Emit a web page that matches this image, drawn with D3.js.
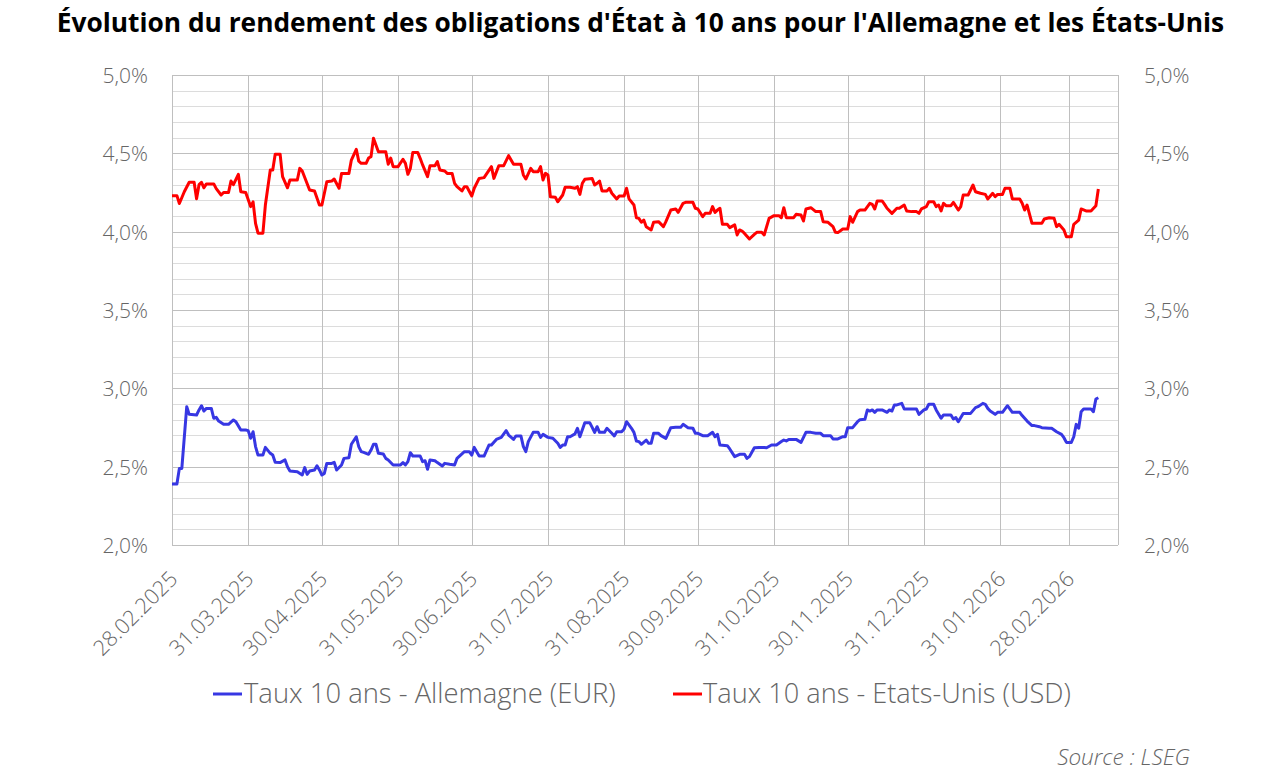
<!DOCTYPE html>
<html>
<head>
<meta charset="utf-8">
<script src="https://cdn.jsdelivr.net/npm/d3@7"></script>
<style>
  html, body { margin: 0; padding: 0; background: #fff; }
  svg { display: block; }
</style>
</head>
<body>
<svg id="chart"></svg>
<script>
const width = 1281;
const height = 774;

const title = "Évolution du rendement des obligations d'État à 10 ans pour l'Allemagne et les États-Unis";
const seriesNames = ["Taux 10 ans - Allemagne (EUR)", "Taux 10 ans - Etats-Unis (USD)"];
const sourceText = "Source : LSEG";

const xTickLabels = ["28.02.2025", "31.03.2025", "30.04.2025", "31.05.2025", "30.06.2025", "31.07.2025",
    "31.08.2025", "30.09.2025", "31.10.2025", "30.11.2025", "31.12.2025", "31.01.2026", "28.02.2026"];
const xDomain = ["28.02.2025", "20.03.2026"];
const yDomain = [2.0, 5.0];

// Bund 10 ans (EUR)
const deYield = [
    ["28.02.2025", 2.389], ["02.03.2025", 2.389], ["03.03.2025", 2.489], ["04.03.2025", 2.489], ["06.03.2025", 2.883],
    ["07.03.2025", 2.834], ["10.03.2025", 2.83], ["11.03.2025", 2.862], ["12.03.2025", 2.889], ["13.03.2025", 2.855],
    ["14.03.2025", 2.872], ["16.03.2025", 2.872], ["17.03.2025", 2.809], ["18.03.2025", 2.815], ["19.03.2025", 2.791],
    ["21.03.2025", 2.77], ["23.03.2025", 2.77], ["25.03.2025", 2.798], ["26.03.2025", 2.787], ["28.03.2025", 2.734],
    ["30.03.2025", 2.734], ["31.03.2025", 2.73], ["01.04.2025", 2.681], ["02.04.2025", 2.723], ["03.04.2025", 2.628],
    ["04.04.2025", 2.574], ["06.04.2025", 2.574], ["07.04.2025", 2.623], ["09.04.2025", 2.585], ["10.04.2025", 2.574],
    ["11.04.2025", 2.528], ["13.04.2025", 2.526], ["15.04.2025", 2.543], ["16.04.2025", 2.50], ["17.04.2025", 2.472],
    ["20.04.2025", 2.468], ["22.04.2025", 2.447], ["23.04.2025", 2.494], ["24.04.2025", 2.451], ["25.04.2025", 2.472],
    ["27.04.2025", 2.479], ["28.04.2025", 2.506], ["29.04.2025", 2.479], ["30.04.2025", 2.447], ["01.05.2025", 2.457],
    ["02.05.2025", 2.521], ["04.05.2025", 2.521], ["05.05.2025", 2.528], ["06.05.2025", 2.479], ["08.05.2025", 2.511],
    ["09.05.2025", 2.553], ["11.05.2025", 2.557], ["12.05.2025", 2.643], ["14.05.2025", 2.691], ["15.05.2025", 2.628],
    ["16.05.2025", 2.596], ["17.05.2025", 2.591], ["19.05.2025", 2.579], ["20.05.2025", 2.606], ["21.05.2025", 2.643],
    ["22.05.2025", 2.643], ["23.05.2025", 2.585], ["25.05.2025", 2.581], ["26.05.2025", 2.553], ["27.05.2025", 2.543],
    ["29.05.2025", 2.511], ["01.06.2025", 2.511], ["02.06.2025", 2.526], ["03.06.2025", 2.511], ["04.06.2025", 2.532],
    ["05.06.2025", 2.589], ["06.06.2025", 2.568], ["09.06.2025", 2.568], ["10.06.2025", 2.532], ["11.06.2025", 2.538],
    ["12.06.2025", 2.483], ["13.06.2025", 2.543], ["15.06.2025", 2.538], ["16.06.2025", 2.526], ["18.06.2025", 2.504],
    ["19.06.2025", 2.521], ["21.06.2025", 2.515], ["23.06.2025", 2.511], ["24.06.2025", 2.553], ["27.06.2025", 2.596],
    ["29.06.2025", 2.596], ["30.06.2025", 2.574], ["01.07.2025", 2.623], ["03.07.2025", 2.568], ["05.07.2025", 2.568],
    ["07.07.2025", 2.638], ["08.07.2025", 2.638], ["10.07.2025", 2.674], ["12.07.2025", 2.687], ["14.07.2025", 2.73],
    ["15.07.2025", 2.702], ["17.07.2025", 2.674], ["18.07.2025", 2.696], ["20.07.2025", 2.696], ["21.07.2025", 2.628],
    ["22.07.2025", 2.596], ["23.07.2025", 2.66], ["25.07.2025", 2.719], ["27.07.2025", 2.719], ["28.07.2025", 2.687],
    ["29.07.2025", 2.706], ["31.07.2025", 2.687], ["02.08.2025", 2.681], ["04.08.2025", 2.649], ["05.08.2025", 2.623],
    ["06.08.2025", 2.638], ["07.08.2025", 2.638], ["08.08.2025", 2.691], ["09.08.2025", 2.691], ["11.08.2025", 2.709],
    ["12.08.2025", 2.745], ["13.08.2025", 2.691], ["15.08.2025", 2.781], ["17.08.2025", 2.781], ["18.08.2025", 2.751],
    ["19.08.2025", 2.719], ["20.08.2025", 2.755], ["21.08.2025", 2.719], ["23.08.2025", 2.719], ["24.08.2025", 2.745],
    ["26.08.2025", 2.713], ["27.08.2025", 2.696], ["28.08.2025", 2.723], ["30.08.2025", 2.723], ["31.08.2025", 2.74],
    ["01.09.2025", 2.787], ["03.09.2025", 2.745], ["04.09.2025", 2.719], ["05.09.2025", 2.664], ["06.09.2025", 2.66],
    ["07.09.2025", 2.643], ["09.09.2025", 2.67], ["10.09.2025", 2.649], ["11.09.2025", 2.649], ["12.09.2025", 2.713],
    ["14.09.2025", 2.713], ["15.09.2025", 2.698], ["17.09.2025", 2.681], ["19.09.2025", 2.749], ["21.09.2025", 2.751],
    ["23.09.2025", 2.751], ["24.09.2025", 2.77], ["26.09.2025", 2.749], ["28.09.2025", 2.745], ["29.09.2025", 2.713],
    ["30.09.2025", 2.713], ["02.10.2025", 2.698], ["04.10.2025", 2.698], ["06.10.2025", 2.719], ["07.10.2025", 2.691],
    ["08.10.2025", 2.706], ["09.10.2025", 2.638], ["12.10.2025", 2.634], ["13.10.2025", 2.613], ["15.10.2025", 2.564],
    ["17.10.2025", 2.579], ["19.10.2025", 2.579], ["20.10.2025", 2.553], ["21.10.2025", 2.564], ["23.10.2025", 2.621],
    ["25.10.2025", 2.623], ["27.10.2025", 2.623], ["28.10.2025", 2.621], ["30.10.2025", 2.638], ["01.11.2025", 2.638],
    ["03.11.2025", 2.66], ["04.11.2025", 2.67], ["05.11.2025", 2.664], ["06.11.2025", 2.674], ["09.11.2025", 2.674],
    ["11.11.2025", 2.655], ["13.11.2025", 2.719], ["15.11.2025", 2.719], ["17.11.2025", 2.713], ["19.11.2025", 2.713],
    ["20.11.2025", 2.698], ["23.11.2025", 2.698], ["24.11.2025", 2.677], ["26.11.2025", 2.677], ["28.11.2025", 2.691],
    ["29.11.2025", 2.691], ["30.11.2025", 2.749], ["02.12.2025", 2.749], ["04.12.2025", 2.787], ["05.12.2025", 2.80],
    ["07.12.2025", 2.802], ["08.12.2025", 2.862], ["09.12.2025", 2.855], ["10.12.2025", 2.862], ["11.12.2025", 2.847],
    ["12.12.2025", 2.862], ["14.12.2025", 2.862], ["16.12.2025", 2.847], ["17.12.2025", 2.862], ["18.12.2025", 2.855],
    ["19.12.2025", 2.894], ["20.12.2025", 2.894], ["22.12.2025", 2.904], ["23.12.2025", 2.868], ["28.12.2025", 2.868],
    ["29.12.2025", 2.834], ["31.12.2025", 2.862], ["01.01.2026", 2.868], ["02.01.2026", 2.898], ["04.01.2026", 2.898],
    ["05.01.2026", 2.862], ["07.01.2026", 2.809], ["08.01.2026", 2.83], ["11.01.2026", 2.83], ["12.01.2026", 2.804],
    ["13.01.2026", 2.813], ["14.01.2026", 2.787], ["16.01.2026", 2.84], ["19.01.2026", 2.84], ["21.01.2026", 2.877],
    ["22.01.2026", 2.883], ["24.01.2026", 2.904], ["25.01.2026", 2.898], ["26.01.2026", 2.872], ["27.01.2026", 2.855],
    ["29.01.2026", 2.834], ["30.01.2026", 2.847], ["01.02.2026", 2.847], ["03.02.2026", 2.889], ["05.02.2026", 2.847],
    ["08.02.2026", 2.847], ["09.02.2026", 2.826], ["11.02.2026", 2.791], ["13.02.2026", 2.762], ["14.02.2026", 2.762],
    ["16.02.2026", 2.755], ["17.02.2026", 2.749], ["20.02.2026", 2.745], ["21.02.2026", 2.745], ["23.02.2026", 2.723],
    ["25.02.2026", 2.706], ["26.02.2026", 2.685], ["27.02.2026", 2.655], ["01.03.2026", 2.655], ["02.03.2026", 2.691],
    ["03.03.2026", 2.77], ["04.03.2026", 2.745], ["05.03.2026", 2.851], ["06.03.2026", 2.868], ["09.03.2026", 2.868],
    ["10.03.2026", 2.851], ["11.03.2026", 2.932], ["12.03.2026", 2.94]
];

// Treasury 10 ans (USD)
const usYield = [
    ["28.02.2025", 4.23], ["02.03.2025", 4.23], ["03.03.2025", 4.18], ["05.03.2025", 4.255], ["07.03.2025", 4.315],
    ["09.03.2025", 4.315], ["10.03.2025", 4.21], ["11.03.2025", 4.30], ["12.03.2025", 4.315], ["13.03.2025", 4.28],
    ["14.03.2025", 4.305], ["17.03.2025", 4.305], ["18.03.2025", 4.275], ["20.03.2025", 4.234], ["21.03.2025", 4.25],
    ["23.03.2025", 4.25], ["24.03.2025", 4.323], ["25.03.2025", 4.30], ["27.03.2025", 4.366], ["28.03.2025", 4.255],
    ["30.03.2025", 4.25], ["01.04.2025", 4.16], ["02.04.2025", 4.19], ["03.04.2025", 4.053], ["04.04.2025", 3.99],
    ["06.04.2025", 3.99], ["07.04.2025", 4.17], ["09.04.2025", 4.394], ["10.04.2025", 4.394], ["11.04.2025", 4.494],
    ["13.04.2025", 4.494], ["14.04.2025", 4.351], ["16.04.2025", 4.28], ["17.04.2025", 4.33], ["20.04.2025", 4.33],
    ["21.04.2025", 4.404], ["22.04.2025", 4.387], ["25.04.2025", 4.266], ["27.04.2025", 4.26], ["29.04.2025", 4.17],
    ["30.04.2025", 4.17], ["02.05.2025", 4.319], ["04.05.2025", 4.323], ["05.05.2025", 4.336], ["07.05.2025", 4.277],
    ["08.05.2025", 4.372], ["11.05.2025", 4.372], ["12.05.2025", 4.457], ["14.05.2025", 4.526], ["15.05.2025", 4.45],
    ["16.05.2025", 4.436], ["18.05.2025", 4.436], ["19.05.2025", 4.47], ["20.05.2025", 4.479], ["21.05.2025", 4.596],
    ["23.05.2025", 4.51], ["26.05.2025", 4.51], ["27.05.2025", 4.43], ["28.05.2025", 4.47], ["29.05.2025", 4.415],
    ["31.05.2025", 4.415], ["02.06.2025", 4.462], ["03.06.2025", 4.436], ["04.06.2025", 4.366], ["05.06.2025", 4.404],
    ["06.06.2025", 4.506], ["08.06.2025", 4.506], ["09.06.2025", 4.468], ["10.06.2025", 4.426], ["12.06.2025", 4.351],
    ["13.06.2025", 4.421], ["15.06.2025", 4.421], ["16.06.2025", 4.447], ["17.06.2025", 4.394], ["19.06.2025", 4.387],
    ["20.06.2025", 4.372], ["22.06.2025", 4.372], ["23.06.2025", 4.309], ["24.06.2025", 4.287], ["26.06.2025", 4.26],
    ["27.06.2025", 4.287], ["28.06.2025", 4.287], ["30.06.2025", 4.228], ["01.07.2025", 4.277], ["03.07.2025", 4.34],
    ["05.07.2025", 4.345], ["08.07.2025", 4.415], ["09.07.2025", 4.34], ["11.07.2025", 4.421], ["13.07.2025", 4.421],
    ["15.07.2025", 4.485], ["16.07.2025", 4.457], ["17.07.2025", 4.43], ["20.07.2025", 4.43], ["21.07.2025", 4.362],
    ["22.07.2025", 4.336], ["24.07.2025", 4.404], ["25.07.2025", 4.383], ["27.07.2025", 4.383], ["28.07.2025", 4.415],
    ["29.07.2025", 4.33], ["30.07.2025", 4.372], ["31.07.2025", 4.362], ["01.08.2025", 4.223], ["03.08.2025", 4.219],
    ["04.08.2025", 4.191], ["06.08.2025", 4.234], ["07.08.2025", 4.283], ["09.08.2025", 4.283], ["11.08.2025", 4.277],
    ["12.08.2025", 4.287], ["13.08.2025", 4.238], ["14.08.2025", 4.309], ["15.08.2025", 4.334], ["18.08.2025", 4.34],
    ["19.08.2025", 4.298], ["20.08.2025", 4.309], ["21.08.2025", 4.323], ["22.08.2025", 4.26], ["24.08.2025", 4.26],
    ["25.08.2025", 4.277], ["26.08.2025", 4.245], ["28.08.2025", 4.209], ["29.08.2025", 4.228], ["31.08.2025", 4.228],
    ["01.09.2025", 4.277], ["02.09.2025", 4.209], ["04.09.2025", 4.17], ["05.09.2025", 4.089], ["06.09.2025", 4.085],
    ["07.09.2025", 4.06], ["08.09.2025", 4.074], ["09.09.2025", 4.032], ["11.09.2025", 4.011], ["12.09.2025", 4.06],
    ["14.09.2025", 4.064], ["16.09.2025", 4.032], ["17.09.2025", 4.064], ["19.09.2025", 4.138], ["21.09.2025", 4.145],
    ["22.09.2025", 4.123], ["24.09.2025", 4.181], ["25.09.2025", 4.187], ["28.09.2025", 4.187], ["29.09.2025", 4.149],
    ["30.09.2025", 4.145], ["02.10.2025", 4.096], ["03.10.2025", 4.117], ["05.10.2025", 4.117], ["06.10.2025", 4.16],
    ["07.10.2025", 4.123], ["08.10.2025", 4.138], ["09.10.2025", 4.149], ["10.10.2025", 4.047], ["12.10.2025", 4.047],
    ["13.10.2025", 4.026], ["15.10.2025", 4.043], ["16.10.2025", 3.979], ["17.10.2025", 4.011], ["18.10.2025", 4.004],
    ["19.10.2025", 3.989], ["21.10.2025", 3.953], ["23.10.2025", 3.983], ["24.10.2025", 3.996], ["26.10.2025", 3.996],
    ["27.10.2025", 3.979], ["29.10.2025", 4.085], ["31.10.2025", 4.102], ["02.11.2025", 4.102], ["03.11.2025", 4.089],
    ["04.11.2025", 4.153], ["05.11.2025", 4.089], ["08.11.2025", 4.089], ["09.11.2025", 4.111], ["11.11.2025", 4.106],
    ["12.11.2025", 4.068], ["13.11.2025", 4.145], ["15.11.2025", 4.153], ["17.11.2025", 4.128], ["19.11.2025", 4.128],
    ["20.11.2025", 4.064], ["22.11.2025", 4.06], ["24.11.2025", 4.032], ["25.11.2025", 3.996], ["26.11.2025", 3.994],
    ["28.11.2025", 4.017], ["30.11.2025", 4.017], ["01.12.2025", 4.096], ["02.12.2025", 4.06], ["04.12.2025", 4.128],
    ["05.12.2025", 4.138], ["07.12.2025", 4.138], ["09.12.2025", 4.181], ["10.12.2025", 4.174], ["11.12.2025", 4.145],
    ["12.12.2025", 4.196], ["14.12.2025", 4.196], ["15.12.2025", 4.174], ["16.12.2025", 4.149], ["18.12.2025", 4.117],
    ["20.12.2025", 4.149], ["21.12.2025", 4.149], ["23.12.2025", 4.17], ["24.12.2025", 4.132], ["26.12.2025", 4.128],
    ["28.12.2025", 4.128], ["29.12.2025", 4.117], ["30.12.2025", 4.145], ["01.01.2026", 4.16], ["02.01.2026", 4.191],
    ["04.01.2026", 4.191], ["05.01.2026", 4.16], ["06.01.2026", 4.17], ["07.01.2026", 4.132], ["08.01.2026", 4.181],
    ["09.01.2026", 4.166], ["11.01.2026", 4.166], ["12.01.2026", 4.187], ["14.01.2026", 4.138], ["15.01.2026", 4.16],
    ["16.01.2026", 4.234], ["18.01.2026", 4.234], ["20.01.2026", 4.298], ["21.01.2026", 4.255], ["23.01.2026", 4.245],
    ["25.01.2026", 4.238], ["26.01.2026", 4.209], ["28.01.2026", 4.245], ["29.01.2026", 4.223], ["30.01.2026", 4.238],
    ["01.02.2026", 4.238], ["02.02.2026", 4.277], ["04.02.2026", 4.277], ["05.02.2026", 4.209], ["08.02.2026", 4.209],
    ["09.02.2026", 4.181], ["10.02.2026", 4.138], ["11.02.2026", 4.17], ["13.02.2026", 4.053], ["17.02.2026", 4.053],
    ["18.02.2026", 4.081], ["20.02.2026", 4.089], ["22.02.2026", 4.085], ["23.02.2026", 4.032], ["24.02.2026", 4.047],
    ["26.02.2026", 4.011], ["27.02.2026", 3.968], ["01.03.2026", 3.968], ["02.03.2026", 4.047], ["04.03.2026", 4.074],
    ["05.03.2026", 4.145], ["07.03.2026", 4.132], ["09.03.2026", 4.132], ["11.03.2026", 4.166], ["12.03.2026", 4.272]
];

const seriesColors = ["#3737e3", "#ff0000"];

var margin = {top: 75, right: 163, bottom: 229, left: 172};
var parseDate = d3.timeParse("%d.%m.%Y");
var fmtDate = d3.timeFormat("%d.%m.%Y");
var frLocale = d3.formatLocale({decimal: ",", thousands: " ", grouping: [3], currency: ["", " €"]});
var fmtPct = frLocale.format(".1f");

var svg = d3.select("#chart").attr("width", width).attr("height", height);

var x = d3.scaleTime()
    .domain(xDomain.map(parseDate))
    .range([margin.left, width - margin.right]);

var y = d3.scaleLinear()
    .domain(yDomain)
    .range([height - margin.bottom, margin.top]);

var textColor = "#666666";
var fontFamily = "'Open Sans', 'Noto Sans', sans-serif";

// grille : mineure tous les 0,1 %, majeure tous les 0,5 %
svg.append("g")
    .selectAll("line")
    .data(y.ticks(30))
    .join("line")
    .attr("x1", margin.left).attr("x2", width - margin.right)
    .attr("y1", d => Math.round(y(d)) + 0.5).attr("y2", d => Math.round(y(d)) + 0.5)
    .attr("stroke", "#dcdcdc").attr("stroke-width", 1);

svg.append("g")
    .selectAll("line")
    .data(y.ticks(6))
    .join("line")
    .attr("x1", margin.left).attr("x2", width - margin.right)
    .attr("y1", d => Math.round(y(d)) + 0.5).attr("y2", d => Math.round(y(d)) + 0.5)
    .attr("stroke", "#bfbfbf").attr("stroke-width", 1);

var tickDates = xTickLabels.map(parseDate);

svg.append("g")
    .selectAll("line")
    .data(tickDates.concat([x.domain()[1]]))
    .join("line")
    .attr("x1", d => Math.round(x(d)) + 0.5).attr("x2", d => Math.round(x(d)) + 0.5)
    .attr("y1", margin.top).attr("y2", height - margin.bottom)
    .attr("stroke", "#bfbfbf").attr("stroke-width", 1);

// axes Y gauche et droite
var yLeft = svg.append("g")
    .attr("transform", `translate(${margin.left},0)`)
    .call(d3.axisLeft(y).tickValues(y.ticks(6)).tickSize(0).tickPadding(24).tickFormat(d => fmtPct(d) + "%"));

var yRight = svg.append("g")
    .attr("transform", `translate(${width - margin.right},0)`)
    .call(d3.axisRight(y).tickValues(y.ticks(6)).tickSize(0).tickPadding(26).tickFormat(d => fmtPct(d) + "%"));

[yLeft, yRight].forEach(function (g) {
    g.select(".domain").remove();
    g.selectAll("text")
        .attr("fill", textColor)
        .attr("font-family", fontFamily)
        .attr("font-weight", 300)
        .attr("font-size", 21)
        .attr("dy", "0.36em");
});

// axe X, étiquettes inclinées à 45°
var xAxis = svg.append("g")
    .attr("transform", `translate(0,${height - margin.bottom})`)
    .call(d3.axisBottom(x).tickValues(tickDates).tickSize(0).tickFormat(fmtDate));

xAxis.select(".domain").remove();
xAxis.selectAll("text")
    .attr("fill", textColor)
    .attr("font-family", fontFamily)
    .attr("font-weight", 300)
    .attr("font-size", 21.5)
    .attr("text-anchor", "end")
    .attr("y", 0)
    .attr("dy", "0.35em")
    .attr("transform", "translate(1,30) rotate(-45)");

// courbes
var line = d3.line()
    .x(d => x(parseDate(d[0])))
    .y(d => y(d[1]));

[deYield, usYield].forEach(function (data, i) {
    svg.append("path")
        .datum(data)
        .attr("fill", "none")
        .attr("stroke", seriesColors[i])
        .attr("stroke-width", 3)
        .attr("stroke-linejoin", "round")
        .attr("d", line);
});

function fitText(sel, target) {
    var w = sel.node().getComputedTextLength();
    var fs = parseFloat(sel.attr("font-size"));
    sel.attr("font-size", fs * target / w);
}

// titre
var titleText = svg.append("text")
    .attr("x", width / 2)
    .attr("y", 32)
    .attr("text-anchor", "middle")
    .attr("font-family", fontFamily)
    .attr("font-weight", 700)
    .attr("font-size", 22)
    .attr("fill", "#000")
    .text(title);
fitText(titleText, 1168);

// légende
var legendPos = [{x0: 213, tx: 244, w: 372}, {x0: 673, tx: 703, w: 368}];
seriesNames.forEach(function (name, i) {
    var p = legendPos[i];
    svg.append("line")
        .attr("x1", p.x0).attr("x2", p.x0 + 29)
        .attr("y1", 694).attr("y2", 694)
        .attr("stroke", seriesColors[i]).attr("stroke-width", 3);
    var t = svg.append("text")
        .attr("x", p.tx)
        .attr("y", 703)
        .attr("font-family", fontFamily)
        .attr("font-weight", 300)
        .attr("font-size", 24)
        .attr("fill", textColor)
        .text(name);
    fitText(t, p.w);
});

// source
var src = svg.append("text")
    .attr("x", 1190)
    .attr("y", 765)
    .attr("text-anchor", "end")
    .attr("font-family", fontFamily)
    .attr("font-style", "italic")
    .attr("font-weight", 300)
    .attr("font-size", 20)
    .attr("fill", textColor)
    .text(sourceText);
fitText(src, 133);
</script>
</body>
</html>
